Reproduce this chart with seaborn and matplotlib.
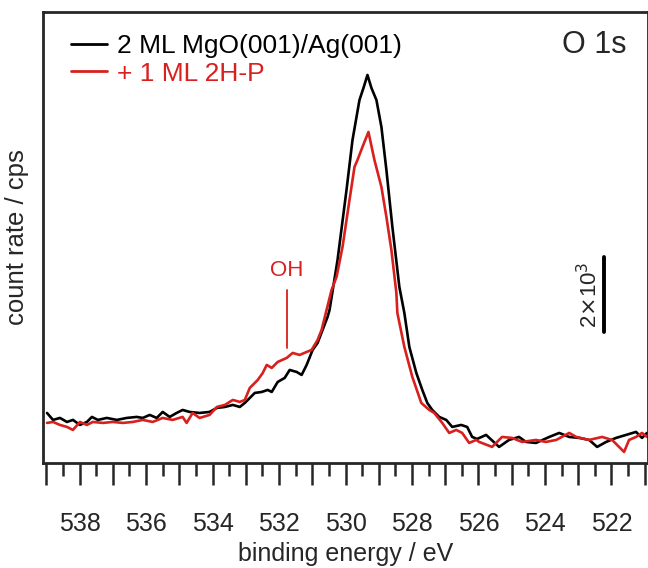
import numpy as np
import pandas as pd
import matplotlib
matplotlib.use('Agg')
import matplotlib.pyplot as plt
import seaborn as sns

# binding energy (eV) and count rate (cps, offset removed)
be_black = [538.98, 538.80, 538.59, 538.38, 538.20, 537.99, 537.78, 537.63, 537.45, 537.18,
            536.88, 536.58, 536.28, 536.10, 535.89, 535.68, 535.50, 535.29, 535.08, 534.90,
            534.69, 534.39, 534.09, 533.87, 533.63, 533.39, 533.18, 533.03, 532.88, 532.73,
            532.52, 532.34, 532.22, 532.04, 531.83, 531.68, 531.47, 531.32, 531.17, 530.99,
            530.84, 530.69, 530.54, 530.48, 530.24, 529.97, 529.79, 529.58, 529.46, 529.34,
            529.22, 529.07, 528.92, 528.77, 528.59, 528.38, 528.23, 528.08, 527.87, 527.69,
            527.54, 527.39, 527.18, 526.97, 526.79, 526.52, 526.34, 526.19, 526.04, 525.77,
            525.38, 525.08, 524.78, 524.57, 524.27, 523.87, 523.57, 523.27, 522.97, 522.67,
            522.43, 522.16, 521.86, 521.56, 521.26, 521.08, 520.93]
cps_black = [1333, 1147, 1200, 1093, 1147, 1013, 1093, 1227, 1147, 1200,
             1147, 1200, 1227, 1200, 1280, 1200, 1360, 1227, 1333, 1413,
             1360, 1333, 1360, 1467, 1493, 1547, 1493, 1600, 1733, 1867,
             1893, 1947, 1893, 2160, 2267, 2480, 2427, 2347, 2613, 3013,
             3200, 3547, 3894, 4080, 5414, 7281, 8614, 9681, 10001, 10348,
             10001, 9681, 8961, 7814, 6294, 4694, 4000, 3094, 2400, 1947,
             1600, 1413, 1227, 1147, 960, 1013, 960, 693, 640, 747,
             427, 613, 693, 560, 533, 693, 800, 693, 667, 613,
             427, 560, 667, 747, 827, 667, 800]

be_red = [538.98, 538.80, 538.59, 538.38, 538.20, 537.99, 537.78, 537.60, 537.30, 537.00,
          536.70, 536.40, 536.10, 535.80, 535.50, 535.20, 534.90, 534.78, 534.60, 534.39,
          534.09, 533.87, 533.63, 533.39, 533.18, 533.03, 532.88, 532.64, 532.49, 532.37,
          532.22, 532.04, 531.77, 531.59, 531.38, 531.17, 531.02, 530.84, 530.72, 530.57,
          530.42, 530.27, 530.09, 529.88, 529.73, 529.64, 529.49, 529.31, 529.13, 528.92,
          528.77, 528.62, 528.47, 528.44, 528.23, 527.99, 527.72, 527.48, 527.33, 527.09,
          526.88, 526.67, 526.49, 526.28, 526.07, 525.98, 525.59, 525.29, 524.99, 524.69,
          524.27, 523.97, 523.66, 523.27, 523.06, 522.67, 522.28, 521.98, 521.62, 521.47,
          521.26, 521.08, 520.93]
cps_red = [1067, 1093, 1013, 960, 880, 1093, 1013, 1093, 1067, 1093,
           1067, 1093, 1147, 1093, 1200, 1147, 1227, 1067, 1333, 1200,
           1280, 1493, 1547, 1680, 1627, 1680, 2000, 2214, 2400, 2614,
           2534, 2694, 2800, 2934, 2880, 2960, 3014, 3280, 3547, 4080,
           4614, 4961, 5761, 7014, 7894, 8081, 8428, 8828, 8081, 7361,
           6561, 5681, 4534, 4000, 3094, 2294, 1600, 1413, 1333, 1067,
           800, 880, 800, 533, 613, 560, 427, 693, 667, 560,
           613, 560, 613, 800, 693, 613, 693, 613, 293, 613,
           693, 800, 693]

labels = ['2 ML MgO(001)/Ag(001)', '+ 1 ML 2H-P']
colors = ['black', '#d8201e']
major_ticks = list(range(521, 540))
tick_labels = [str(t) if t % 2 == 0 else '' for t in major_ticks]

df = pd.concat([
    pd.DataFrame({'be': be_black, 'cps': cps_black, 'sample': labels[0]}),
    pd.DataFrame({'be': be_red, 'cps': cps_red, 'sample': labels[1]}),
])

sns.set_theme(style='ticks')
plt.rcParams['font.family'] = ['Liberation Sans', 'DejaVu Sans']

fig = plt.figure(figsize=(6.48, 5.68), dpi=100)
ax = fig.add_axes([0.0664, 0.185, 0.9336, 0.794])

sns.lineplot(data=df, x='be', y='cps', hue='sample', palette=colors,
             sort=False, estimator=None, linewidth=1.9, ax=ax)

ax.set_xlim(539.1, 520.9)
ax.set_ylim(0, 12030)
ax.set_xticks(major_ticks)
ax.set_xticklabels(tick_labels, fontsize=18)
ax.set_xticks(np.arange(521.5, 539.5, 1), minor=True)
ax.tick_params(axis='x', which='major', length=16, width=1.8, direction='out', pad=19.5)
ax.tick_params(axis='x', which='minor', length=9, width=1.8, direction='out')
ax.set_yticks([])
for s in ax.spines.values():
    s.set_linewidth(2)

ax.set_xlabel('binding energy / eV', fontsize=18, labelpad=4)
ax.set_ylabel('count rate / cps', fontsize=18.5, labelpad=10)

leg = ax.legend(loc='upper left', bbox_to_anchor=(0.046, 0.95), frameon=False,
                fontsize=19, handlelength=1.36, handletextpad=0.38,
                labelspacing=0.12, borderpad=0, borderaxespad=0,
                labelcolor='linecolor')
for h in leg.get_lines():
    h.set_linewidth(2)

ax.text(521.55, 11148, 'O 1s', fontsize=22, ha='right', va='center')

# OH marker
ax.text(531.77, 5120, 'OH', color=colors[1], fontsize=16, ha='center', va='center')
ax.plot([531.77, 531.77], [3067, 4614], color=colors[1], linewidth=1.3)

# scale bar 2x10^3 cps
ax.plot([522.22, 522.22], [3494, 5494], color='black', linewidth=2.8)
ax.text(522.66, 4494, r'2$\times$10$^3$', fontsize=16, rotation=90, ha='center', va='center')

fig.savefig('out.png', dpi=100)
